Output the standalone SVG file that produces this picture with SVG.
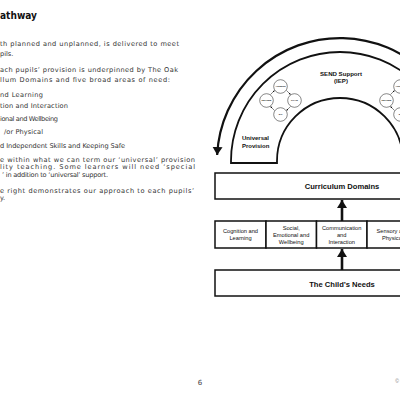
<svg xmlns="http://www.w3.org/2000/svg" width="400" height="400" viewBox="0 0 400 400">
<style>
.body{font-family:"DejaVu Sans","Liberation Sans",sans-serif;font-size:6.6px;fill:#333}
.lbl{font-family:"Liberation Sans",Arial,sans-serif;fill:#111;text-anchor:middle}
.b{font-weight:bold}
.sm{font-size:5.7px}
.cyc{font-size:2.5px}
.box{fill:#fff;stroke:#111;stroke-width:1.5}
.ln{fill:none;stroke:#111}
</style>
<defs>
<marker id="ah" markerUnits="userSpaceOnUse" markerWidth="12" markerHeight="12" refX="8" refY="5" orient="auto">
<path d="M0,0 L8,5 L0,10 Z" fill="#111"/>
</marker>
<marker id="ahs" markerUnits="userSpaceOnUse" markerWidth="4" markerHeight="4" refX="2" refY="1.2" orient="auto">
<path d="M0,0 L2,1.2 L0,2.4 Z" fill="#111"/>
</marker>
</defs>
<rect width="400" height="400" fill="#fff"/>

<g id="page-text">
<text x="0" y="19" font-family="DejaVu Sans,Liberation Sans,sans-serif" font-weight="bold" font-size="10.5" fill="#111" textLength="37" lengthAdjust="spacingAndGlyphs">athway</text>
<text class="body" x="0" y="45.5" textLength="179" lengthAdjust="spacing">th planned and unplanned, is delivered to meet</text>
<text class="body" x="0" y="55.5">pils.</text>
<text class="body" x="0" y="72" textLength="178" lengthAdjust="spacing">ach pupils’ provision is underpinned by The Oak</text>
<text class="body" x="0" y="81.5" textLength="170" lengthAdjust="spacing">llum Domains and five broad areas of need:</text>
<text class="body" x="0" y="96.5" textLength="43" lengthAdjust="spacing">nd Learning</text>
<text class="body" x="0" y="108" textLength="68" lengthAdjust="spacing">tion and Interaction</text>
<text class="body" x="0" y="120.5" textLength="58" lengthAdjust="spacing">ional and Wellbeing</text>
<text class="body" x="4" y="134" textLength="39" lengthAdjust="spacing">/or Physical</text>
<text class="body" x="0" y="147.5" textLength="125" lengthAdjust="spacing">d Independent Skills and Keeping Safe</text>
<text class="body" x="0" y="161.5" textLength="195" lengthAdjust="spacing">e within what we can term our ‘universal’ provision</text>
<text class="body" x="0" y="169" textLength="195" lengthAdjust="spacing">lity teaching. Some learners will need ‘special</text>
<text class="body" x="2" y="176.5" textLength="106" lengthAdjust="spacing">’ in addition to ‘universal’ support.</text>
<text class="body" x="0" y="192.5" textLength="194" lengthAdjust="spacing">e right demonstrates our approach to each pupils’</text>
<text class="body" x="0" y="199.5">y.</text>
<text x="200" y="385" font-family="DejaVu Sans,Liberation Sans,sans-serif" font-size="7" fill="#444" text-anchor="middle">6</text>
<text x="397" y="383" font-family="Liberation Sans,sans-serif" font-size="5" fill="#777" text-anchor="middle">©</text>
</g>

<g id="connectors">
<path class="ln" stroke-width="2.2" d="M463,161 A123,123 0 0 0 217.15,155" marker-end="url(#ah)"/>
<line class="ln" stroke-width="2.6" x1="342" y1="221" x2="342" y2="200" marker-end="url(#ah)"/>
<line class="ln" stroke-width="2.6" x1="342" y1="270" x2="342" y2="249" marker-end="url(#ah)"/>
</g>

<g id="arch">
<path d="M231,163 V161 A109,109 0 0 1 449,161 V163 H403 V161 A63,63 0 0 0 277,161 V163 Z" fill="#fff" stroke="#111" stroke-width="1.8"/>
<text class="lbl b" x="341" y="76" font-size="6.1">SEND Support</text>
<text class="lbl b" x="341" y="83" font-size="6.1">(IEP)</text>
<text class="lbl b" x="242" y="140" font-size="6" style="text-anchor:start">Universal</text>
<text class="lbl b" x="242" y="148" font-size="6" style="text-anchor:start">Provision</text>
</g>

<g id="cycle-left" stroke="#111" stroke-width="0.5">
<g fill="#fff">
<circle cx="280.5" cy="86.5" r="6.8"/>
<circle cx="294.5" cy="100.5" r="6.8"/>
<circle cx="280.5" cy="114.5" r="6.8"/>
<circle cx="266.5" cy="100.5" r="6.8"/>
</g>
<g fill="none" marker-end="url(#ahs)">
<line x1="286.5" y1="90.5" x2="290.5" y2="94.5"/>
<line x1="290.5" y1="106.5" x2="286.5" y2="110.5"/>
<line x1="274.5" y1="110.5" x2="270.5" y2="106.5"/>
<line x1="270.5" y1="94.5" x2="274.5" y2="90.5"/>
</g>
<g stroke="none">
<text class="lbl cyc b" x="280.5" y="87.4">ASSESS</text>
<text class="lbl cyc b" x="294.5" y="101.4">PLAN</text>
<text class="lbl cyc b" x="280.5" y="115.4">DO</text>
<text class="lbl cyc b" x="266.5" y="101.4">REVIEW</text>
</g>
</g>

<g id="cycle-right" stroke="#111" stroke-width="0.5">
<g fill="#fff">
<circle cx="400.5" cy="86.5" r="6.8"/>
<circle cx="414.5" cy="100.5" r="6.8"/>
<circle cx="400.5" cy="114.5" r="6.8"/>
<circle cx="386.5" cy="100.5" r="6.8"/>
</g>
<g fill="none" marker-end="url(#ahs)">
<line x1="406.5" y1="90.5" x2="410.5" y2="94.5"/>
<line x1="410.5" y1="106.5" x2="406.5" y2="110.5"/>
<line x1="394.5" y1="110.5" x2="390.5" y2="106.5"/>
<line x1="390.5" y1="94.5" x2="394.5" y2="90.5"/>
</g>
<g stroke="none">
<text class="lbl cyc b" x="400.5" y="87.4">ASSESS</text>
<text class="lbl cyc b" x="386.5" y="101.4">REVIEW</text>
<text class="lbl cyc b" x="400.5" y="115.4">DO</text>
</g>
</g>

<g id="curriculum-domains">
<rect class="box" x="215" y="173" width="254" height="26"/>
<text class="lbl b" x="342" y="189" font-size="7.6">Curriculum Domains</text>
</g>

<g id="cognition">
<rect class="box" x="215" y="221" width="51" height="27"/>
<text class="lbl sm" x="240.5" y="233">Cognition and</text>
<text class="lbl sm" x="240.5" y="240">Learning</text>
</g>
<g id="social">
<rect class="box" x="266" y="221" width="50.5" height="27"/>
<text class="lbl sm" x="291.2" y="229.5">Social,</text>
<text class="lbl sm" x="291.2" y="236.5">Emotional and</text>
<text class="lbl sm" x="291.2" y="243.5">Wellbeing</text>
</g>
<g id="communication">
<rect class="box" x="316.5" y="221" width="50.5" height="27"/>
<text class="lbl sm" x="341.7" y="229.5">Communication</text>
<text class="lbl sm" x="341.7" y="236.5">and</text>
<text class="lbl sm" x="341.7" y="243.5">Interaction</text>
</g>
<g id="sensory">
<rect class="box" x="367" y="221" width="51" height="27"/>
<text class="lbl sm" x="392.5" y="233">Sensory and</text>
<text class="lbl sm" x="392.5" y="240">Physical</text>
</g>
<g id="independence">
<rect class="box" x="418" y="221" width="51" height="27"/>
</g>

<g id="childs-needs">
<rect class="box" x="215" y="270" width="254" height="26"/>
<text class="lbl b" x="342" y="286.5" font-size="7.6">The Child’s Needs</text>
</g>
</svg>
